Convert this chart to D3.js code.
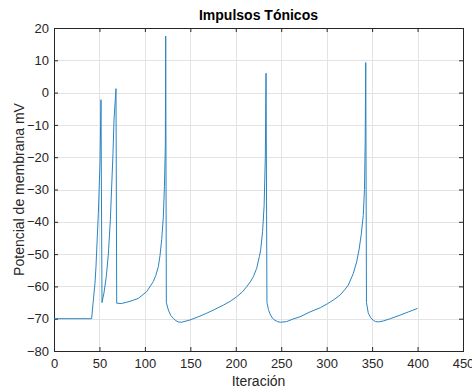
<!DOCTYPE html>
<html>
<head>
<meta charset="utf-8">
<script src="https://cdn.jsdelivr.net/npm/d3@7"></script>
<style>
    body { margin: 0; background: #fff; }
    svg { display: block; font-family: "Liberation Sans", Arial, sans-serif; }
</style>
</head>
<body>
<svg id="chart" width="472" height="388"></svg>
<script>
// values (iteration, membrane potential in mV)
const iteracion = [
    0, 41.4, 43.3, 45.1, 46.2, 47, 48.8, 50.6, 51.7,
    52.8, 55, 57.5, 59.8, 62, 64.9, 66, 68.2,
    69, 74, 80, 86, 92.8, 102, 109.3, 112, 114.8, 116.6, 118.5, 120.3, 121.5, 122.5, 122.9,
    123.6, 125.8, 128.5, 131.3, 134, 136.8, 140, 143, 149.6, 160.6, 168, 177, 186.3, 194, 201,
    207, 212, 216, 219.3, 223, 225.9, 227.4, 229.5, 231.2, 232.5, 233.3,
    234.3, 236, 237.6, 240, 243.1, 246, 249, 256, 263, 270.7, 281.7, 293, 300.7, 308, 314.7,
    320, 323.8, 329.3, 333, 335.6, 338, 340.3, 341.6, 342.4, 343,
    343.8, 345.8, 348.5, 351.3, 354, 356.8, 362.3, 370, 380.7, 390, 400
];
const potencial = [
    -70, -70, -64.2, -59, -53.9, -48.7, -37.4, -21.9, -2.2,
    -65, -62, -57, -50, -39.4, -18.8, -8.5, 1.2,
    -65.2, -65.3, -64.9, -64.4, -63.7, -61.6, -58.5, -56.6, -53.9, -50.5, -45.5, -38.5, -29, -16.7, 17.5,
    -65, -67.3, -69, -69.9, -70.6, -71, -71.1, -70.9, -70.4, -69.2, -68.3, -67.1, -65.8, -64.6, -63.2,
    -61.8, -60.1, -58.6, -57, -54.4, -50.8, -48.7, -43, -35, -20, 6,
    -65, -67.2, -68.5, -69.7, -70.5, -70.9, -71.1, -70.9, -70.1, -69.4, -67.9, -66.6, -65.4, -64.1, -62.7,
    -61, -59.6, -56, -52.4, -48.7, -44, -38, -30, -15, 9.3,
    -65, -68.3, -69.7, -70.5, -70.9, -71, -70.7, -70, -68.9, -67.9, -66.8
];
const xTicks = [0, 50, 100, 150, 200, 250, 300, 350, 400, 450];
const yTicks = [-80, -70, -60, -50, -40, -30, -20, -10, 0, 10, 20];

const titulo = 'Impulsos Tónicos';
const etiquetaX = 'Iteración';
const etiquetaY = 'Potencial de membrana mV';

(function() {
    let svg = d3.select('#chart');
    let plot = {left: 54, right: 463, top: 28, bottom: 351};
    let axisColor = '#262626';

    let x = d3.scaleLinear().domain([0, 450]).range([plot.left, plot.right]);
    let y = d3.scaleLinear().domain([-80, 20]).range([plot.bottom, plot.top]);

    //grid first so the box and the line sit on top
    let grid = svg.append('g').attr('stroke', '#e3e3e3').attr('stroke-width', 1);
    grid.selectAll('line.gx')
        .data(xTicks.slice(1, -1))
        .join('line')
        .attr('class', 'gx')
        .attr('x1', d => Math.round(x(d)) + 0.5).attr('x2', d => Math.round(x(d)) + 0.5)
        .attr('y1', plot.top).attr('y2', plot.bottom);
    grid.selectAll('line.gy')
        .data(yTicks.slice(1, -1))
        .join('line')
        .attr('class', 'gy')
        .attr('y1', d => Math.round(y(d)) + 0.5).attr('y2', d => Math.round(y(d)) + 0.5)
        .attr('x1', plot.left).attr('x2', plot.right);

    // MATLAB style: ticks pointing inward on all four sides
    let styleAxis = g => {
        g.select('.domain').remove();
        g.selectAll('.tick line').attr('stroke', axisColor);
        g.selectAll('.tick text').attr('fill', axisColor).attr('font-size', 13);
    };

    svg.append('g')
        .attr('transform', `translate(0,${plot.bottom})`)
        .call(d3.axisBottom(x).tickValues(xTicks).tickSizeInner(-4).tickSizeOuter(0).tickPadding(8))
        .call(styleAxis);
    svg.append('g')
        .attr('transform', `translate(0,${plot.top})`)
        .call(d3.axisTop(x).tickValues(xTicks).tickSizeInner(-4).tickSizeOuter(0).tickFormat(''))
        .call(styleAxis);
    svg.append('g')
        .attr('transform', `translate(${plot.left},0)`)
        .call(d3.axisLeft(y).tickValues(yTicks).tickSizeInner(-4).tickSizeOuter(0).tickPadding(5))
        .call(styleAxis);
    svg.append('g')
        .attr('transform', `translate(${plot.right},0)`)
        .call(d3.axisRight(y).tickValues(yTicks).tickSizeInner(-4).tickSizeOuter(0).tickFormat(''))
        .call(styleAxis);

    svg.append('rect')
        .attr('x', plot.left + 0.5).attr('y', plot.top + 0.5)
        .attr('width', plot.right - plot.left).attr('height', plot.bottom - plot.top)
        .attr('fill', 'none').attr('stroke', axisColor).attr('stroke-width', 1);

    let points = iteracion.map((it, i) => [it, potencial[i]]);
    let line = d3.line()
        .x(d => x(d[0]))
        .y(d => y(d[1]));

    svg.append('path')
        .datum(points)
        .attr('d', line)
        .attr('fill', 'none')
        .attr('stroke', '#2a84c2')
        .attr('stroke-width', 1)
        .attr('stroke-linejoin', 'round');

    svg.append('text')
        .attr('x', (plot.left + plot.right) / 2).attr('y', 20)
        .attr('text-anchor', 'middle')
        .attr('font-size', 14).attr('font-weight', 'bold')
        .attr('fill', '#000')
        .text(titulo);

    svg.append('text')
        .attr('x', (plot.left + plot.right) / 2).attr('y', 386)
        .attr('text-anchor', 'middle')
        .attr('font-size', 14)
        .attr('fill', axisColor)
        .text(etiquetaX);

    svg.append('text')
        .attr('transform', `translate(24,${(plot.top + plot.bottom) / 2}) rotate(-90)`)
        .attr('text-anchor', 'middle')
        .attr('font-size', 14)
        .attr('fill', axisColor)
        .text(etiquetaY);
})();
</script>
</body>
</html>
